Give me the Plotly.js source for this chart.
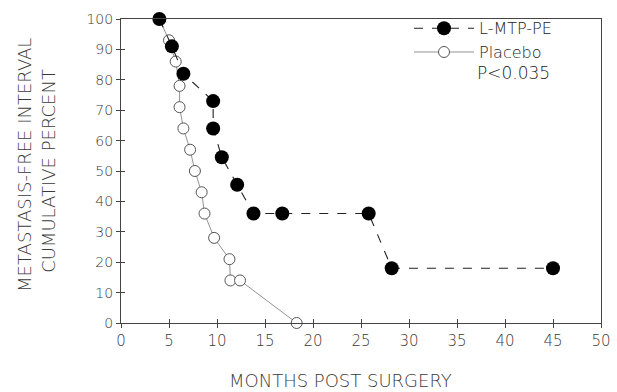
<!DOCTYPE html>
<html>
<head>
<meta charset="utf-8">
<script src="https://cdn.plot.ly/plotly-3.0.1.min.js"></script>
<style>html,body{margin:0;padding:0;background:#fff;}</style>
</head>
<body>
<div id="chart" style="width:617px;height:392px;"></div>
<script>
// L-MTP-PE group (filled circles)
const mtpMonths = [4, 5.3, 6.5, 9.6, 9.6, 10.5, 12.1, 13.8, 16.8, 25.8, 28.2, 45];
const mtpPercent = [100, 91, 82, 73, 64, 54.5, 45.5, 36, 36, 36, 18, 18];
// Placebo group (open circles)
const placeboMonths = [4, 5, 5.7, 6.1, 6.1, 6.5, 7.2, 7.7, 8.4, 8.7, 9.7, 11.3, 11.4, 12.4, 18.3];
const placeboPercent = [100, 93, 86, 78, 71, 64, 57, 50, 43, 36, 28, 21, 14, 14, 0];
const xTicks = [0, 5, 10, 15, 20, 25, 30, 35, 40, 45, 50];
const yTicks = [0, 10, 20, 30, 40, 50, 60, 70, 80, 90, 100];
const seriesNames = ["L-MTP-PE", "Placebo"];
const pValueText = "P<0.035";

const FONT = "DejaVu Sans, Liberation Sans, sans-serif";
const GREY = "#3a3a3a";
const W = 200;

const traces = [
  {
    x: placeboMonths, y: placeboPercent, name: seriesNames[1],
    type: "scatter", mode: "lines+markers", cliponaxis: false,
    line: {color: "#777", width: 0.8},
    marker: {symbol: "circle", size: 11, color: "#fff", line: {color: "#555", width: 1}}
  },
  {
    x: mtpMonths, y: mtpPercent, name: seriesNames[0],
    type: "scatter", mode: "lines+markers", cliponaxis: false,
    line: {color: "#222", width: 1.1, dash: "dash"},
    marker: {symbol: "circle", size: 14, color: "#000"}
  },
  {x: [], y: [], xaxis: "x2", yaxis: "y2", showlegend: false, type: "scatter", hoverinfo: "skip"}
];

const layout = {
  width: 617, height: 392,
  margin: {l: 121, r: 16, t: 18, b: 69},
  paper_bgcolor: "#fff", plot_bgcolor: "#fff",
  font: {family: FONT, color: GREY, size: 15, weight: W},
  showlegend: true,
  legend: {
    x: 0.6, y: 1.022, xanchor: "left", yanchor: "top",
    traceorder: "reversed", itemwidth: 60,
    bgcolor: "rgba(0,0,0,0)", borderwidth: 0,
    font: {family: FONT, size: 16, color: "#222", weight: W},
    tracegroupgap: 0
  },
  xaxis: {
    range: [0, 50], tickvals: xTicks, ticktext: xTicks.map(String),
    showgrid: false, zeroline: false,
    showline: true, linecolor: "#444", linewidth: 1, mirror: true,
    ticks: "outside", ticklen: 4, tickcolor: "#444",
    tickfont: {family: FONT, size: 15, color: GREY, weight: W},
    title: {text: ""}
  },
  yaxis: {
    range: [0, 100], tickvals: yTicks, ticktext: yTicks.map(String),
    showgrid: false, zeroline: false,
    showline: true, linecolor: "#444", linewidth: 1, mirror: true,
    ticks: "outside", ticklen: 4, tickcolor: "#444",
    tickfont: {family: FONT, size: 14, color: GREY, weight: W},
    title: {text: "CUMULATIVE PERCENT", standoff: 26, font: {family: FONT, size: 18, color: GREY, weight: W}}
  },
  xaxis2: {
    range: [0, 50], overlaying: "x", anchor: "y", side: "bottom",
    tickvals: xTicks, showticklabels: false, showgrid: false, zeroline: false,
    showline: false, ticks: "inside", ticklen: 4, tickcolor: "#444"
  },
  yaxis2: {
    range: [0, 100], overlaying: "y", anchor: "x", side: "left",
    tickvals: yTicks, showticklabels: false, showgrid: false, zeroline: false,
    showline: false, ticks: "inside", ticklen: 4, tickcolor: "#444"
  },
  annotations: [
    {
      text: "METASTASIS-FREE INTERVAL", textangle: -90,
      xref: "paper", yref: "paper", x: -0.2, y: 0.52,
      xanchor: "center", yanchor: "middle", showarrow: false,
      font: {family: FONT, size: 18, color: GREY, weight: W}
    },
    {
      text: "MONTHS POST SURGERY",
      xref: "paper", yref: "paper", x: 0.458, y: -0.188,
      xanchor: "center", yanchor: "middle", showarrow: false,
      font: {family: FONT, size: 18, color: GREY, weight: W}
    },
    {
      text: pValueText,
      xref: "paper", yref: "paper", x: 0.737, y: 0.823,
      xanchor: "left", yanchor: "middle", showarrow: false,
      font: {family: FONT, size: 17, color: "#222", weight: W}
    }
  ]
};

Plotly.newPlot("chart", traces, layout, {displayModeBar: false, staticPlot: true});
</script>
</body>
</html>
